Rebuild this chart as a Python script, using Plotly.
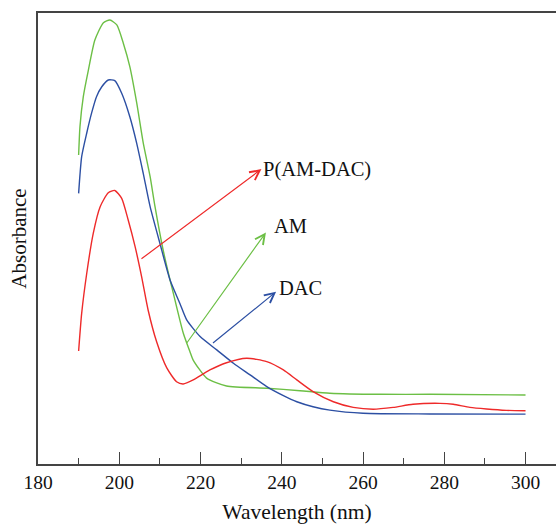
import plotly.graph_objects as go

# ---- data ----
am_wl = [190, 190.33, 191.15, 192.4, 194.0, 196.1, 197.7, 199.4, 201.0, 202.6, 204.3, 205.9,
         207.6, 208.8, 210.8, 212.5, 213.3, 215.75, 217.4, 218.2, 221.5, 226.4, 236.3,
         244.5, 251.85, 264.2, 276.5, 300]
am_abs = [1.370, 1.496, 1.629, 1.747, 1.880, 1.957, 1.969, 1.947, 1.866, 1.762, 1.601, 1.424,
          1.274, 1.141, 0.949, 0.816, 0.758, 0.581, 0.498, 0.461, 0.381, 0.346, 0.336,
          0.325, 0.314, 0.309, 0.309, 0.306]

dac_wl = [190, 190.75, 192.0, 193.2, 194.4, 195.7, 197.3, 198.9, 200.6, 202.6, 204.3, 205.9,
          207.6, 210.0, 212.5, 214.9, 216.6, 219.9, 224.0, 228.1, 232.2, 236.3, 240.4,
          243.7, 247.7, 251.85, 260.0, 276.5, 300]
dac_abs = [1.200, 1.363, 1.468, 1.557, 1.629, 1.673, 1.703, 1.700, 1.644, 1.540, 1.422, 1.289,
           1.141, 0.979, 0.816, 0.713, 0.639, 0.565, 0.506, 0.447, 0.395, 0.343, 0.303,
           0.276, 0.254, 0.239, 0.225, 0.222, 0.221]

p_wl = [190, 190.75, 192.0, 193.6, 195.3, 197.3, 198.9, 200.6, 202.2, 203.9, 205.5, 207.1,
        209.2, 211.7, 214.1, 215.75, 218.2, 222.3, 226.4, 231.35, 236.3, 240.4, 243.7,
        247.7, 252.7, 257.6, 262.5, 267.4, 272.3, 278.9, 282.2, 286.3, 290.4, 295.3, 300]
p_abs = [0.501, 0.668, 0.846, 1.023, 1.141, 1.203, 1.213, 1.178, 1.082, 0.964, 0.831, 0.683,
         0.542, 0.426, 0.365, 0.355, 0.373, 0.417, 0.449, 0.469, 0.454, 0.417, 0.373,
         0.321, 0.276, 0.251, 0.243, 0.251, 0.265, 0.269, 0.265, 0.251, 0.244, 0.238, 0.236]

x_ticks = [180, 200, 220, 240, 260, 280, 300]

# label annotations: text, colour, arrow tail (x, y), arrow head (x, y), text anchor (x, y)
labels = ["P(AM-DAC)", "AM", "DAC"]
label_colors = ["#ee2a2a", "#6cbf45", "#2c4fa3"]
tail_x = [205.1, 216.4, 222.7]
tail_y = [0.905, 0.531, 0.531]
head_x = [235.0, 236.1, 238.6]
head_y = [1.308, 1.027, 0.764]
text_x = [234.8, 237.5, 238.9]
text_y = [1.308, 1.055, 0.780]

FONT = "Liberation Serif"
AXIS_COLOR = "#444444"

fig = go.Figure()
for wl, ab, col, name in [(am_wl, am_abs, label_colors[1], "AM"),
                          (dac_wl, dac_abs, label_colors[2], "DAC"),
                          (p_wl, p_abs, label_colors[0], "P(AM-DAC)")]:
    fig.add_trace(go.Scatter(x=wl, y=ab, mode="lines", name=name,
                             line=dict(color=col, width=1.4, shape="spline", smoothing=0.6),
                             showlegend=False, hoverinfo="skip"))

annotations = []
for i, t in enumerate(labels):
    annotations.append(dict(x=head_x[i], y=head_y[i], ax=tail_x[i], ay=tail_y[i],
                            xref="x", yref="y", axref="x", ayref="y", text="",
                            showarrow=True, arrowhead=5, arrowsize=1.6, arrowwidth=1.2,
                            arrowcolor=label_colors[i], standoff=0, startstandoff=0))
    annotations.append(dict(x=text_x[i], y=text_y[i], xref="x", yref="y", text=t,
                            showarrow=False, xanchor="left", yanchor="middle",
                            font=dict(family=FONT, size=20.5, color="#111111")))

fig.update_layout(
    width=556, height=525,
    margin=dict(l=38, r=0, t=13, b=61),
    paper_bgcolor="white", plot_bgcolor="white",
    annotations=annotations,
    xaxis=dict(range=[180, 307.5], tickmode="array", tickvals=x_ticks,
               ticktext=[str(v) for v in x_ticks],
               ticks="inside", ticklen=12, tickwidth=1.3, tickcolor=AXIS_COLOR,
               minor=dict(dtick=10, tick0=180, ticks="inside", ticklen=6, tickwidth=1.3,
                          tickcolor=AXIS_COLOR, showgrid=False),
               showline=True, linecolor=AXIS_COLOR, linewidth=2, mirror=True,
               showgrid=False, zeroline=False,
               tickfont=dict(family=FONT, size=19.5, color="#111111"),
               title=dict(text="Wavelength (nm)", font=dict(family=FONT, size=21.5, color="#111111"),
                          standoff=12)),
    yaxis=dict(range=[0, 2], showticklabels=False, ticks="", showgrid=False, zeroline=False,
               showline=True, linecolor=AXIS_COLOR, linewidth=2,
               title=dict(text="Absorbance", font=dict(family=FONT, size=21, color="#111111"),
                          standoff=4)),
)

fig.write_html("out.html")
